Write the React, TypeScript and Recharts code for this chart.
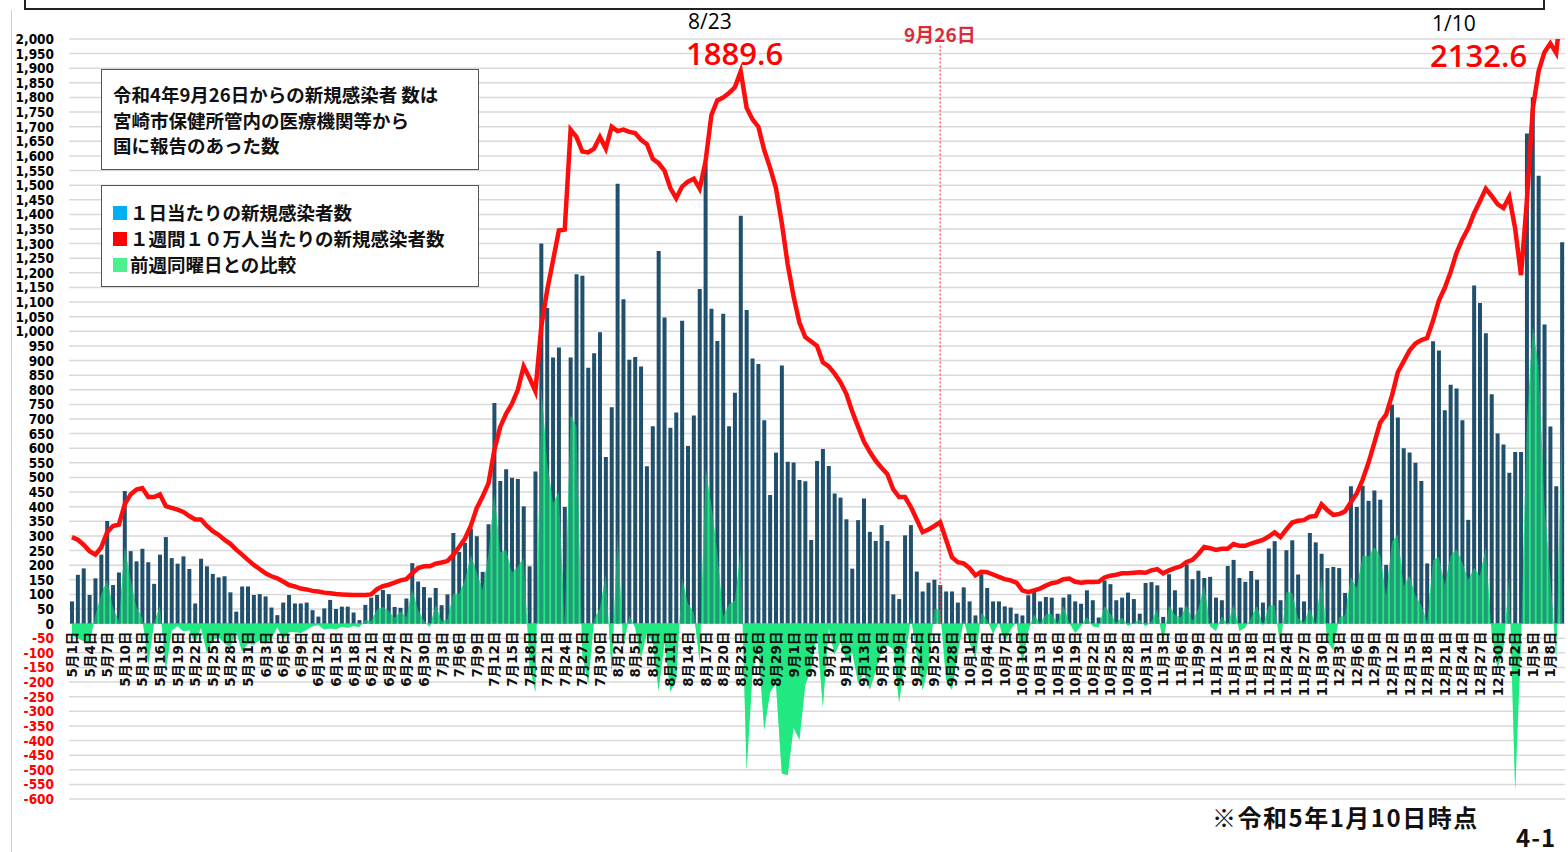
import React from 'react';
import { ComposedChart, Bar, Area, Line, XAxis, YAxis, CartesianGrid, ReferenceLine } from 'recharts';

// ---- categories ----
const months = [5, 6, 7, 8, 9, 10, 11, 12, 1];
const monthLengths = [31, 30, 31, 31, 30, 31, 30, 31, 10];

// ---- 1日当たりの新規感染者数 ----
const dailyCases = [
  // May
  76, 167, 189, 98, 155, 236, 351, 132, 175, 454, 248, 213, 256, 210, 136, 236, 296, 224, 205, 230, 187, 69, 222, 196, 170, 158, 162, 107, 41, 127, 127,
  // June
  98, 101, 93, 55, 29, 72, 98, 69, 69, 72, 46, 24, 52, 81, 50, 58, 58, 38, 12, 64, 89, 98, 115, 101, 57, 54, 86, 207, 144, 125,
  // July
  89, 122, 63, 100, 310, 245, 276, 325, 299, 177, 340, 755, 488, 528, 499, 495, 401, 196, 520, 1300, 1080, 910, 945, 399, 910, 1195, 1190, 875, 925, 997, 570,
  // August
  740, 1505, 1110, 903, 912, 880, 538, 675, 1275, 1047, 670, 722, 1036, 608, 712, 1145, 1575, 1077, 967, 1060, 675, 790, 1395, 1073, 907, 888, 696, 440, 585, 883, 554,
  // September
  551, 491, 487, 286, 556, 597, 539, 445, 431, 357, 188, 354, 428, 314, 283, 337, 283, 100, 84, 302, 337, 178, 110, 140, 150, 132, 110, 110, 72, 124,
  // October
  76, 28, 169, 122, 76, 76, 59, 55, 34, 28, 97, 108, 76, 91, 89, 34, 89, 100, 76, 68, 114, 80, 21, 148, 135, 80, 89, 106, 84, 34, 139,
  // November
  142, 131, 23, 169, 114, 55, 203, 152, 181, 156, 160, 89, 80, 197, 218, 156, 143, 180, 150, 72, 257, 282, 80, 251, 285, 168, 76, 310, 278, 239,
  // December
  190, 194, 190, 105, 470, 399, 472, 420, 455, 424, 201, 749, 705, 600, 585, 550, 488, 206, 966, 934, 730, 817, 804, 696, 355, 1157, 1097, 993, 785, 650, 613,
  // January
  516, 587, 587, 1677, 1801, 1532, 1023, 674, 470, 1305,
];

// ---- 1週間10万人当たりの新規感染者数 ----
const weeklyPer100k = [
  // May
  296, 287, 270, 248, 236, 261, 313, 334, 339, 408, 442, 459, 464, 433, 433, 442, 402, 396, 390, 382, 368, 356, 356, 334, 316, 304, 287, 273, 253, 236, 218,
  // June
  201, 187, 172, 162, 155, 144, 132, 127, 120, 117, 112, 110, 106, 104, 101, 100, 99, 98, 98, 98, 100, 118, 128, 133, 140, 148, 152, 172, 190, 196,
  // July
  196, 205, 209, 214, 235, 262, 291, 335, 395, 435, 480, 593, 673, 718, 752, 800, 880, 840, 795, 1015, 1140, 1242, 1345, 1348, 1690, 1665, 1615, 1612, 1625, 1665, 1625,
  // August
  1700, 1685, 1690, 1682, 1678, 1655, 1640, 1590, 1575, 1550, 1490, 1455, 1495, 1512, 1522, 1488, 1581, 1740, 1790, 1800, 1815, 1835, 1889.6, 1765, 1725, 1700, 1620, 1560, 1490, 1370, 1230,
  // September
  1120, 1030, 980, 965, 950, 894, 880, 855, 826, 786, 726, 674, 623, 588, 557, 533, 511, 459, 433, 433, 399, 356, 313, 322, 334, 347, 287, 227, 210, 206,
  // October
  190, 165, 177, 176, 168, 160, 152, 148, 140, 114, 108, 114, 120, 130, 138, 142, 152, 154, 143, 140, 142, 142, 143, 158, 164, 167, 172, 172, 174, 176, 174,
  // November
  182, 186, 172, 182, 190, 196, 211, 218, 238, 262, 258, 252, 256, 256, 272, 266, 266, 274, 280, 286, 298, 312, 296, 322, 346, 352, 354, 366, 368, 408,
  // December
  388, 372, 375, 384, 415, 445, 492, 550, 618, 688, 715, 780, 860, 897, 934, 958, 970, 977, 1036, 1105, 1148, 1203, 1268, 1315, 1352, 1404, 1445, 1488, 1463, 1435, 1422,
  // January
  1460, 1352, 1192, 1445, 1760, 1890, 1955, 1985, 1952, 2132.6,
];

// ---- 前週同曜日との比較 ----
const weekOverWeek = [
  // May
  -40, -50, -60, -65, 30, 100, 150, 56, 8, 265, 150, 58, 20, -141, 4, 61, -158, -24, -8, -26, -23, -67, -14, -100, -54, -47, -68, -80, -28, -95, -69,
  // June
  -72, -57, -69, -52, -12, -55, -29, -29, -32, -21, -9, -5, -20, -17, -19, -11, -14, -8, -12, 12, 8, 48, 57, 43, 19, 42, 22, 118, 46, 10,
  // July
  -12, 65, 9, 14, 103, 101, 151, 236, 177, 114, 240, 445, 243, 252, 174, 196, 224, -144, -235, 812, 552, 411, 450, -2, 714, 675, -110, -205, 15, 52, 171,
  // August
  -170, 310, -80, 28, -13, -117, -32, -65, -230, -63, -233, -190, 156, 70, 37, -130, 528, 407, 245, 24, 67, 78, 250, -502, -170, -79, -364, -235, -205, -512, -519,
  // September
  -356, -397, -209, -154, -29, -286, -15, -106, -60, -130, -98, -202, -169, -225, -162, -94, -74, -88, -270, -126, 23, -105, -227, -143, 50, 48, -192, -227, -106, 14,
  // October
  -64, -122, 37, 12, -34, 4, -65, -21, 6, -141, -25, 32, 0, 32, 34, 0, 61, 3, -32, -8, 23, -9, -13, 59, 35, 4, 21, -8, 4, 13, -9,
  // November
  7, 51, -66, 63, 30, 21, 64, 10, 50, 133, -9, -25, 25, -6, 66, -25, -13, 20, 61, -8, 60, 64, -76, 108, 105, 18, 4, 53, -4, 159,
  // December
  -61, -91, 22, 29, 160, 121, 233, 230, 261, 234, 96, 279, 306, 128, 165, 95, 64, 5, 217, 229, 130, 232, 254, 208, 149, 191, 163, 263, -32, -154, -83,
  // January
  161, -570, -60, 684, 1016, 882, 410, 158, -117, 718,
];

const yTicks = [
  -600, -550, -500, -450, -400, -350, -300, -250, -200, -150, -100, -50, 0, 50, 100, 150, 200, 250, 300, 350, 400, 450,
  500, 550, 600, 650, 700, 750, 800, 850, 900, 950, 1000, 1050, 1100, 1150, 1200, 1250, 1300, 1350, 1400, 1450, 1500,
  1550, 1600, 1650, 1700, 1750, 1800, 1850, 1900, 1950, 2000,
];

const Y_MIN = -600;
const Y_MAX = 2000;
const markerCategory = '9月26日';
const markerTop = 1985;

const categories: string[] = [];
months.forEach((m, k) => {
  for (let d = 1; d <= monthLengths[k]; d++) categories.push(`${m}月${d}日`);
});

const data = categories.map((label, i) => ({
  label,
  cases: dailyCases[i],
  weekly: weeklyPer100k[i],
  diff: weekOverWeek[i],
}));

// ---- layout ----
const W = 1568;
const H = 852;
const TOP = 39;
const XAXIS_H = 53;
const YAXIS_W = 69;
const PLOT_H = H - TOP - XAXIS_H;
const ZERO_Y = TOP + (PLOT_H * Y_MAX) / (Y_MAX - Y_MIN);

const CJK = "'Noto Sans CJK JP', 'Noto Sans CJK SC', sans-serif";

const YTick = (props: any) => {
  const { x, y, payload } = props;
  const v = payload.value as number;
  return (
    <text
      x={x}
      y={y}
      textAnchor="end"
      dominantBaseline="central"
      fill={v < 0 ? '#FF0000' : '#000000'}
      style={{ fontFamily: "'DejaVu Sans Condensed', 'DejaVu Sans', sans-serif", fontStretch: 'condensed', fontWeight: 700, fontSize: 13.5 }}
    >
      {v.toLocaleString('en-US')}
    </text>
  );
};

const XTick = (props: any) => {
  const { x, payload } = props;
  return (
    <text
      transform={`translate(${x},${ZERO_Y + 8}) rotate(-90)`}
      textAnchor="end"
      dominantBaseline="central"
      fill="#111"
      style={{ fontFamily: "'DejaVu Sans', 'Noto Sans CJK JP', sans-serif", fontWeight: 700, fontSize: 13.5 }}
    >
      {payload.value}
    </text>
  );
};

const abs = (left: number, top: number, extra: React.CSSProperties = {}): React.CSSProperties => ({
  position: 'absolute',
  left,
  top,
  whiteSpace: 'nowrap',
  ...extra,
});

const square = (color: string): React.CSSProperties => ({
  display: 'inline-block',
  width: 14,
  height: 14,
  background: color,
  marginRight: 3,
  verticalAlign: 'middle',
  position: 'relative',
  top: -2,
});

export default function App() {
  return (
    <div style={{ position: 'absolute', left: 0, top: 0, width: W, height: H, overflow: 'hidden', background: '#fff' }}>
      {/* frame pieces */}
      <div style={abs(24, -20, { width: 1521, height: 30, border: '2.5px solid #222', boxSizing: 'border-box' })} />
      <div style={abs(11, 10, { width: 0, height: 842, borderLeft: '1.5px solid #d0d0d0' })} />

      <ComposedChart
        width={W}
        height={H}
        data={data}
        margin={{ top: TOP, right: 3, bottom: 0, left: 0 }}
        barSize={4}
      >
        <CartesianGrid vertical={false} stroke="#D9D9D9" strokeWidth={1.5} />
        <XAxis
          dataKey="label"
          interval={2}
          height={XAXIS_H}
          tick={<XTick />}
          tickLine={false}
          axisLine={false}
          tickSize={0}
        />
        <YAxis
          type="number"
          domain={[Y_MIN, Y_MAX]}
          ticks={yTicks}
          interval={0}
          allowDataOverflow
          width={YAXIS_W}
          tick={<YTick />}
          tickLine={false}
          axisLine={false}
          tickSize={0}
          tickMargin={15}
        />
        <Area
          dataKey="diff"
          type="linear"
          baseValue={0}
          fill="#22E882"
          fillOpacity={1}
          stroke="none"
          isAnimationActive={false}
          dot={false}
          activeDot={false}
        />
        <Bar dataKey="cases" fill="#21506C" isAnimationActive={false} />
        <Area
          dataKey="diff"
          type="linear"
          baseValue={0}
          fill="#22E882"
          fillOpacity={0.5}
          stroke="none"
          isAnimationActive={false}
          dot={false}
          activeDot={false}
          {...({ zIndex: 350 } as any)}
        />
        <ReferenceLine
          segment={[{ x: markerCategory, y: 0 }, { x: markerCategory, y: markerTop }]}
          stroke="#F04848"
          strokeDasharray="2 2"
          strokeWidth={1.2}
        />
        <Line
          dataKey="weekly"
          type="linear"
          stroke="#FF0D0D"
          strokeWidth={4.5}
          dot={false}
          activeDot={false}
          isAnimationActive={false}
        />
      </ComposedChart>

      {/* note box */}
      <div
        style={abs(101, 69, {
          width: 378,
          height: 101,
          border: '1.5px solid #555',
          boxSizing: 'border-box',
          background: '#fff',
          padding: '12px 0 0 11px',
          fontFamily: CJK,
          fontWeight: 700,
          fontSize: 18.5,
          lineHeight: '25.5px',
          color: '#111',
        })}
      >
        <div>令和4年9月26日からの新規感染者 数は</div>
        <div>宮崎市保健所管内の医療機関等から</div>
        <div>国に報告のあった数</div>
      </div>

      {/* legend box */}
      <div
        style={abs(101, 185, {
          width: 378,
          height: 102,
          border: '1.5px solid #555',
          boxSizing: 'border-box',
          background: '#fff',
          padding: '13px 0 0 11px',
          fontFamily: CJK,
          fontWeight: 700,
          fontSize: 18.5,
          lineHeight: '26px',
          color: '#111',
        })}
      >
        <div><span style={square('#00B0F0')} />１日当たりの新規感染者数</div>
        <div><span style={square('#FF0000')} />１週間１０万人当たりの新規感染者数</div>
        <div><span style={square('#4CF08C')} />前週同曜日との比較</div>
      </div>

      {/* peak annotations */}
      <div style={abs(688, 10, { fontFamily: "'Open Sans', 'Noto Sans', sans-serif", fontSize: 21, lineHeight: '22px', color: '#000' })}>8/23</div>
      <div style={abs(686, 37, { fontFamily: "'Open Sans', 'Noto Sans', sans-serif", fontSize: 31, lineHeight: '32px', color: '#FF0000', fontWeight: 600 })}>1889.6</div>
      <div style={abs(1432, 12, { fontFamily: "'Open Sans', 'Noto Sans', sans-serif", fontSize: 21, lineHeight: '22px', color: '#000' })}>1/10</div>
      <div style={abs(1430, 39, { fontFamily: "'Open Sans', 'Noto Sans', sans-serif", fontSize: 31, lineHeight: '32px', color: '#FF0000', fontWeight: 600 })}>2132.6</div>
      <div style={abs(904, 22, { fontFamily: CJK, fontSize: 19, lineHeight: '24px', color: '#DD2A3A', fontWeight: 700 })}>9月26日</div>

      {/* footer */}
      <div style={abs(1212, 802, { fontFamily: CJK, fontSize: 24, lineHeight: '30px', color: '#111', fontWeight: 700, letterSpacing: 1.5 })}>※令和5年1月10日時点</div>
      <div style={abs(1516, 824, { fontFamily: CJK, fontSize: 24, lineHeight: '26px', color: '#111', fontWeight: 700, letterSpacing: 1 })}>4-1</div>
    </div>
  );
}
